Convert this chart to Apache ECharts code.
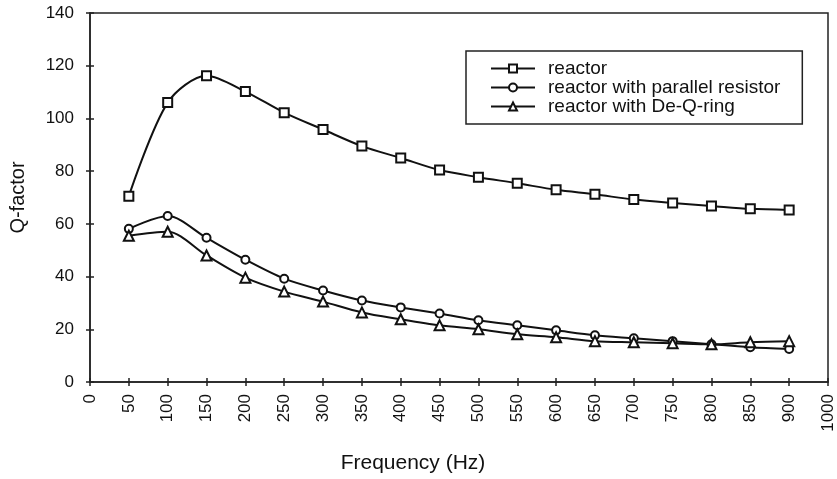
<!DOCTYPE html>
<html>
<head>
<meta charset="utf-8">
<script src="https://cdn.jsdelivr.net/npm/echarts@6/dist/echarts.min.js"></script>
<style>
  html, body { margin: 0; padding: 0; background: #fff; }
  #chart { width: 837px; height: 479px; }
</style>
</head>
<body>
<div id="chart"></div>
<script>
// x categories (equal spacing, as in the original category axis)
var freq = ["0","50","100","150","200","250","300","350","400","450","500",
            "550","600","650","700","750","800","850","900","1000"];
var reactor  = [null, 70.5, 106, 116.2, 110.2, 102.2, 95.8, 89.5, 85, 80.4, 77.7,
                75.4, 72.9, 71.2, 69.2, 67.9, 66.8, 65.7, 65.3, null];
var parallel = [null, 58.1, 63, 54.7, 46.4, 39.2, 34.7, 30.9, 28.3, 26, 23.4,
                21.5, 19.6, 17.7, 16.6, 15.5, 14.3, 13.2, 12.5, null];
var deQ      = [null, 55.5, 57, 48, 39.6, 34.3, 30.5, 26.4, 23.8, 21.5, 20,
                18.1, 17, 15.5, 15.1, 14.7, 14.3, 15.1, 15.5, null];
var names = ["reactor", "reactor with parallel resistor", "reactor with De-Q-ring"];

var font = "Liberation Sans, Arial, sans-serif";
var ink = "#111";

var chart = echarts.init(document.getElementById("chart"));

function mkSeries(name, data, symbol, size){
    return {
        name: name,
        type: "line",
        data: data,
        smooth: 0.3,
        symbol: symbol,
        symbolSize: size,
        showAllSymbol: true,
        lineStyle: { color: ink, width: 2 },
        itemStyle: { color: ink, borderColor: ink, borderWidth: 1.5 },
        emphasis: { disabled: true },
        animation: false
    };
}

var option = {
    backgroundColor: "#fff",
    textStyle: { fontFamily: font, color: ink },
    grid: {
        left: 88, right: 9, top: 13, bottom: 95,
        show: true, borderColor: "#222", borderWidth: 1.5
    },
    legend: {
        orient: "vertical",
        left: 466, top: 51,
        padding: [8, 22, 8, 24],
        borderColor: "#222", borderWidth: 1.5,
        backgroundColor: "#fff",
        itemWidth: 44, itemHeight: 10, itemGap: 0,
        textStyle: { fontFamily: font, fontSize: 19, lineHeight: 18, color: ink, padding: [0, 0, 0, 8] },
        data: names
    },
    xAxis: [
        {
            type: "category",
            data: freq,
            boundaryGap: false,
            name: "Frequency (Hz)",
            nameLocation: "middle",
            nameGap: 71,
            nameTextStyle: { fontFamily: font, fontSize: 21, color: ink, padding: [0, 92, 0, 0] },
            axisLine: { lineStyle: { color: "#222", width: 1.5 } },
            axisTick: { show: true, interval: 0, length: 4, lineStyle: { color: "#222", width: 1.5 } },
            axisLabel: { interval: 0, rotate: 90, margin: 12, fontFamily: font, fontSize: 17, color: ink },
            splitLine: { show: false }
        },
        {
            type: "category",
            data: freq,
            boundaryGap: false,
            position: "bottom",
            axisLine: { show: false },
            axisTick: { show: true, inside: true, interval: 0, length: 4, lineStyle: { color: "#222", width: 1.5 } },
            axisLabel: { show: false },
            splitLine: { show: false }
        }
    ],
    yAxis: [
        {
            type: "value",
            min: 0, max: 140, interval: 20,
            name: "Q-factor",
            nameLocation: "middle",
            nameGap: 62,
            nameTextStyle: { fontFamily: font, fontSize: 20, color: ink, padding: [0, 0, 0, 0] },
            axisLine: { show: true, lineStyle: { color: "#222", width: 1.5 } },
            axisTick: { show: true, length: 4, lineStyle: { color: "#222", width: 1.5 } },
            axisLabel: { margin: 16, fontFamily: font, fontSize: 17, color: ink },
            splitLine: { show: false }
        },
        {
            type: "value",
            min: 0, max: 140, interval: 20,
            position: "left",
            axisLine: { show: false },
            axisTick: { show: true, inside: true, length: 4, lineStyle: { color: "#222", width: 1.5 } },
            axisLabel: { show: false },
            splitLine: { show: false }
        }
    ],
    series: [
        mkSeries(names[0], reactor, "emptyRect", 9),
        mkSeries(names[1], parallel, "emptyCircle", 8),
        mkSeries(names[2], deQ, "emptyTriangle", 10)
    ],
    animation: false
};

chart.setOption(option);
</script>
</body>
</html>
